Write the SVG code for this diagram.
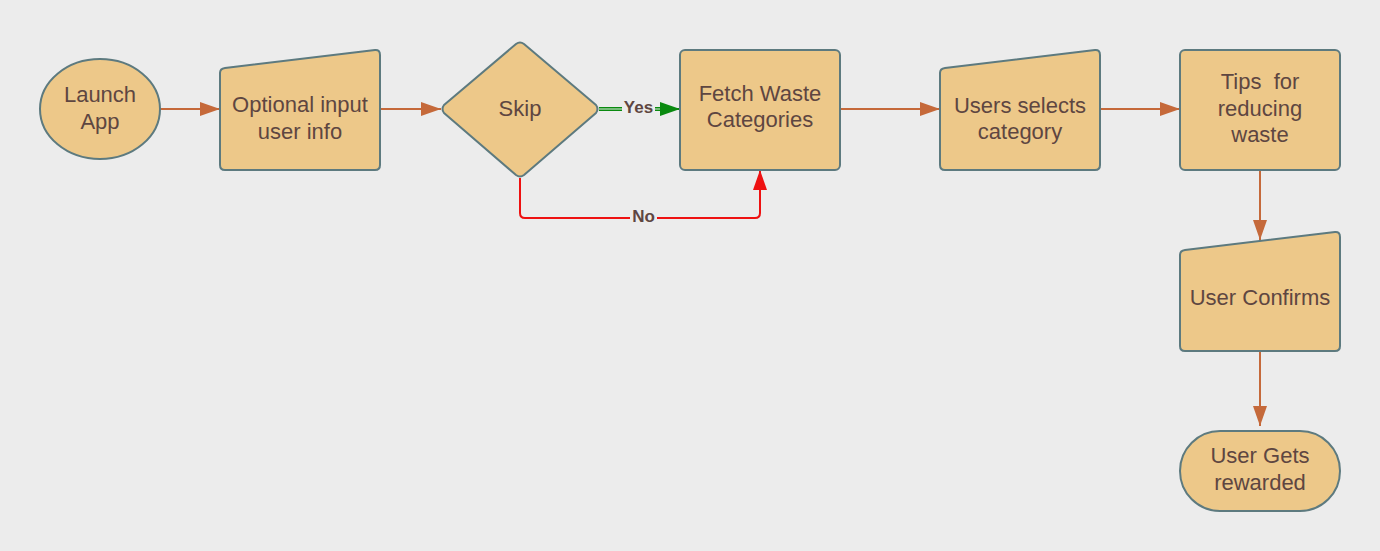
<svg xmlns="http://www.w3.org/2000/svg" width="1380" height="551" viewBox="0 0 1380 551">
<defs>
<style>
.shape{fill:#edc889;stroke:#5d7a7f;stroke-width:2;stroke-linejoin:round}
.t{font-family:"Liberation Sans",Arial,sans-serif;font-size:22px;fill:#5e4641;text-anchor:middle;white-space:pre}
.lbl{font-family:"Liberation Sans",Arial,sans-serif;font-size:17px;font-weight:bold;fill:#5e4641;text-anchor:middle}
.c{fill:none;stroke:#c5693a;stroke-width:2}
</style>
<marker id="ao" viewBox="0 0 20 14" refX="20" refY="7" markerWidth="20" markerHeight="14" markerUnits="userSpaceOnUse" orient="auto"><path d="M0,0 L20,7 L0,14 Z" fill="#c5693a"/></marker>
<marker id="ag" viewBox="0 0 20 14" refX="20" refY="7" markerWidth="20" markerHeight="14" markerUnits="userSpaceOnUse" orient="auto"><path d="M0,0 L20,7 L0,14 Z" fill="#0a8a10"/></marker>
<marker id="ar" viewBox="0 0 20 14" refX="20" refY="7" markerWidth="20" markerHeight="14" markerUnits="userSpaceOnUse" orient="auto"><path d="M0,0 L20,7 L0,14 Z" fill="#ee1111"/></marker>
</defs>
<rect width="1380" height="551" fill="#ececec"/>
<g id="connectors">
<path class="c" d="M160,109 H220" marker-end="url(#ao)"/>
<path class="c" d="M380,109 H441" marker-end="url(#ao)"/>
<path d="M599,109 H664" fill="none" stroke="#0a8a10" stroke-width="4"/>
<path d="M599,109 H664" fill="none" stroke="#e6f0e6" stroke-width="1.2"/>
<path d="M660,109 H680" fill="none" stroke="#0a8a10" stroke-width="2" marker-end="url(#ag)"/>
<path d="M520,178 V213 Q520,218 525,218 H755 Q760,218 760,213 V170" fill="none" stroke="#ee1111" stroke-width="2" marker-end="url(#ar)"/>
<path class="c" d="M840,109 H940" marker-end="url(#ao)"/>
<path class="c" d="M1100,109 H1180" marker-end="url(#ao)"/>
<path class="c" d="M1260,170 V240" marker-end="url(#ao)"/>
<path class="c" d="M1260,351 V426" marker-end="url(#ao)"/>
<rect x="622" y="98" width="33" height="18" fill="#ececec"/>
<text class="lbl" x="638.5" y="113">Yes</text>
<rect x="630" y="207" width="27" height="18" fill="#ececec"/>
<text class="lbl" x="643.5" y="222">No</text>
</g>
<g id="launch">
<ellipse class="shape" cx="100" cy="109" rx="60" ry="50"/>
<text class="t" x="100" y="102">Launch</text>
<text class="t" x="100" y="129">App</text>
</g>
<g id="optional">
<path class="shape" d="M225,68 L375,50 Q380,49.5 380,55 L380,165 Q380,170 375,170 L225,170 Q220,170 220,165 L220,73 Q220,68.6 225,68 Z"/>
<text class="t" x="300" y="112">Optional input</text>
<text class="t" x="300" y="139">user info</text>
</g>
<g id="skip">
<path class="shape" d="M516,44 Q520,41 524,44 L596,105 Q599,109 596,113 L524,175 Q520,178 516,175 L444,113 Q441,109 444,105 Z"/>
<text class="t" x="520" y="116">Skip</text>
</g>
<g id="fetch">
<rect class="shape" x="680" y="50" width="160" height="120" rx="5"/>
<text class="t" x="760" y="101">Fetch Waste</text>
<text class="t" x="760" y="127">Categories</text>
</g>
<g id="selects">
<path class="shape" d="M945,68 L1095,50 Q1100,49.5 1100,55 L1100,165 Q1100,170 1095,170 L945,170 Q940,170 940,165 L940,73 Q940,68.6 945,68 Z"/>
<text class="t" x="1020" y="113">Users selects</text>
<text class="t" x="1020" y="139">category</text>
</g>
<g id="tips">
<rect class="shape" x="1180" y="50" width="160" height="120" rx="5"/>
<text class="t" x="1260" y="89">Tips  for</text>
<text class="t" x="1260" y="116">reducing</text>
<text class="t" x="1260" y="142">waste</text>
</g>
<g id="confirms">
<path class="shape" d="M1185,250 L1335,232 Q1340,231.5 1340,237 L1340,346 Q1340,351 1335,351 L1185,351 Q1180,351 1180,346 L1180,255 Q1180,250.6 1185,250 Z"/>
<text class="t" x="1260" y="305">User Confirms</text>
</g>
<g id="rewarded">
<rect class="shape" x="1180" y="431" width="160" height="80" rx="40"/>
<text class="t" x="1260" y="463">User Gets</text>
<text class="t" x="1260" y="490">rewarded</text>
</g>
</svg>
